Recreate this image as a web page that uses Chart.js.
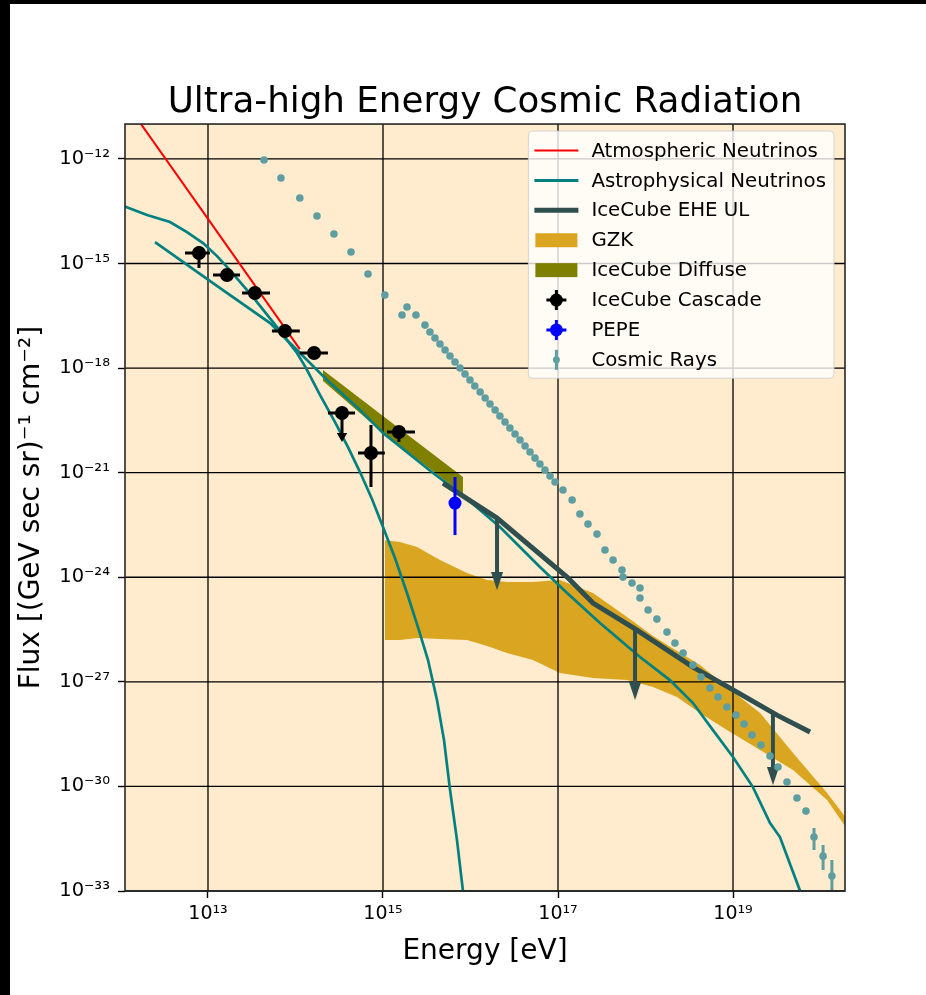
<!DOCTYPE html>
<html>
<head>
<meta charset="utf-8">
<title>Ultra-high Energy Cosmic Radiation</title>
<script src="https://cdn.jsdelivr.net/npm/chart.js@4.4.1/dist/chart.umd.min.js"></script>
<style>
    body { margin: 0; background: #fff; }
    #frame { position: relative; width: 926px; height: 995px; overflow: hidden; }
    #chartFlux { position: absolute; left: 0; top: 0; }
    .edge { position: absolute; background: #000; }
</style>
</head>
<body>
<div id="frame">
    <canvas id="chartFlux" width="926" height="995"></canvas>
    <div class="edge" style="left:0;top:0;width:926px;height:4px"></div>
    <div class="edge" style="left:0;top:0;width:10px;height:995px"></div>
</div>
<script>
// energies in eV, fluxes in (GeV sec sr)^-1 cm^-2

const xMin = 1.126e12;
const xMax = 1.905e20;
const yMin = 1e-33;
const yMax = 1e-11;

const xTickValues = [1e13, 1e15, 1e17, 1e19];
const xTickLabels = ["10¹³", "10¹⁵", "10¹⁷", "10¹⁹"];
const yTickValues = [1e-33, 1e-30, 1e-27, 1e-24, 1e-21, 1e-18, 1e-15, 1e-12];
const yTickLabels = ["10⁻³³", "10⁻³⁰", "10⁻²⁷", "10⁻²⁴", "10⁻²¹", "10⁻¹⁸", "10⁻¹⁵", "10⁻¹²"];

const atmEnergy = [1e12, 1e13, 1.12e14];
const atmFlux = [6.8e-11, 1.9e-14, 3.5e-18];

const astroEnergy = [2.48e12, 1.14e13, 5.12e13, 1.04e14, 2.29e14, 5.46e14, 1e15, 3.73e15, 7.59e15, 2.17e16, 6.22e16, 1.27e17, 3.02e17, 8.65e17, 1.9e18, 3.49e18, 5.9e18, 1e19, 1.69e19, 2.65e19, 3.44e19, 5.84e19, 6.3e19];
const astroFlux = [4.12e-15, 2.75e-16, 1.95e-17, 3.29e-18, 4.53e-19, 6.25e-20, 1.37e-20, 9.75e-22, 2.6e-22, 2.75e-23, 1.96e-24, 3.52e-25, 4.85e-26, 5.13e-27, 1.12e-27, 2.46e-28, 4.13e-29, 6.95e-30, 9.57e-31, 8.87e-32, 3.52e-32, 1e-33, 4e-34];

const astroCutEnergy = [
    1.12e12, 2.01e12, 3.68e12, 5.75e12, 8.77e12, 1.27e13, 1.78e13, 3.27e13, 6.15e13, 1.04e14, 1.32e14, 1.91e14, 2.83e14,
    3.98e14, 5.46e14, 7.48e14, 1e15, 1.37e15, 1.88e15, 2.51e15, 3.27e15, 4.14e15, 4.98e15, 5.84e15, 7.01e15, 8.2e15, 8.65e15
];
const astroCutFlux = [
    4.3e-14, 2.45e-14, 1.55e-14, 7.98e-15, 3.86e-15, 1.63e-15, 6.49e-16, 1.09e-16, 1.5e-17, 2.7e-18, 1.0e-18, 1.68e-19, 2.83e-20,
    5.42e-21, 1.04e-21, 1.75e-22, 2.75e-23, 3.55e-24, 3.52e-25, 3.72e-26, 4.21e-27, 3.0e-28, 2.13e-29, 7.85e-31, 2.89e-32, 1e-33, 1.5e-34
];

const eheEnergy = [4.85e15, 2.01e16, 1.27e17, 2.51e17, 8e17, 3.49e18, 9.25e18, 3.18e19, 7.59e19];
const eheFlux = [5.04e-22, 4.99e-23, 1.01e-24, 1.82e-25, 3.05e-26, 2.65e-27, 6.6e-28, 1.11e-28, 3.62e-29];

const eheArrowEnergy = [2.01e16, 7.59e17, 2.86e19];
const eheArrowTop = [4.99e-23, 3.26e-26, 1.19e-28];
const eheArrowHead = [7.76e-25, 5.43e-28, 1.98e-30];

const gzkEnergy = [1.05e15, 1.56e15, 2.45e15, 4.48e15, 9.12e15, 1.55e16, 2.61e16, 5.18e16, 1.05e17, 2.51e17, 6.15e17, 1.22e18, 2.29e18, 4.2e18, 8.53e18, 2.04e19, 4.85e19, 1.19e20, 2.17e20];
const gzkHigh = [1.16e-23, 1.02e-23, 7.34e-24, 3.11e-24, 1.32e-24, 8.3e-25, 7.28e-25, 7.28e-25, 8.3e-25, 3.52e-25, 7.19e-26, 2.06e-26, 7.62e-27, 3.03e-27, 7.08e-28, 1.27e-28, 9.04e-30, 6.44e-31, 8.87e-32];
const gzkLow = [1.58e-26, 1.58e-26, 1.8e-26, 1.69e-26, 1.58e-26, 1.06e-26, 6.68e-27, 4.21e-27, 1.78e-27, 1.28e-27, 1.12e-27, 7.08e-28, 3.66e-28, 1.27e-28, 4.13e-29, 1.1e-29, 2.94e-30, 4.06e-31, 4.58e-32];

const diffuseEnergy = [2.06e14, 1e15, 8.2e15];
const diffuseHigh = [8.77e-19, 4.21e-20, 7.48e-22];
const diffuseLow = [4.25e-19, 1.37e-20, 2.43e-22];

const cascadeEnergy = [7.89e12, 1.65e13, 3.44e13, 7.59e13, 1.63e14, 3.4e14, 7.29e14, 1.52e15];
const cascadeFlux = [2.0e-15, 4.66e-16, 1.42e-16, 1.15e-17, 2.7e-18, 5.13e-20, 3.65e-21, 1.46e-20];
const cascadeEnergyLow = [5.46e12, 1.14e13, 2.45e13, 5.38e13, 1.12e14, 2.35e14, 5.18e14, 1.11e15];
const cascadeEnergyHigh = [1.05e13, 2.32e13, 5.12e13, 1.12e14, 2.35e14, 4.79e14, 1.05e15, 2.32e15];
const cascadeFluxLow = [7.4e-16, 3.7e-16, 1.13e-16, 9.1e-18, 2.1e-18, null, 3.86e-22, 7.55e-21];
const cascadeFluxHigh = [3.16e-15, 5.9e-16, 1.8e-16, 1.45e-17, 3.4e-18, null, 2.32e-20, 2.03e-20];
const cascadeLimitEnergy = [3.4e14];
const cascadeLimitTop = [5.13e-20];
const cascadeLimitHead = [1.12e-20];

const pepeEnergy = [6.65e15];
const pepeFlux = [1.34e-22];
const pepeFluxLow = [1.62e-23];
const pepeFluxHigh = [7.48e-22];

const crEnergy = [
    4.37e13, 6.82e13, 1.12e14, 1.76e14, 2.75e14, 4.31e14, 6.74e14, 1.05e15, 1.65e15, 1.88e15, 2.38e15, 3.02e15,
    3.44e15, 3.93e15, 4.48e15, 5.12e15, 5.83e15, 6.65e15, 7.59e15, 8.65e15, 9.86e15, 1.12e16, 1.29e16, 1.47e16, 1.67e16,
    1.91e16, 2.17e16, 2.48e16, 2.82e16, 3.23e16, 3.68e16, 4.2e16, 4.79e16, 5.46e16, 6.22e16, 7.1e16, 8.11e16, 9.25e16,
    1.14e17, 1.45e17, 1.78e17, 2.2e17, 2.79e17, 3.44e17, 4.26e17, 5.39e17, 5.53e17, 7.01e17, 8.65e17, 8.65e17,
    1.07e18, 1.35e18, 1.76e18, 2.17e18, 2.69e18, 3.49e18, 4.31e18, 5.46e18, 6.75e18, 8.53e18, 1.08e19, 1.34e19,
    1.65e19, 2.09e19, 2.65e19, 3.27e19, 4.14e19, 5.38e19, 6.82e19, 8.43e19, 1.07e20, 1.35e20
];
const crFlux = [
    9.27e-13, 2.82e-13, 7.54e-14, 2.3e-14, 7.0e-15, 2.13e-15, 4.98e-16, 1.24e-16, 3.32e-17, 5.62e-17, 3.32e-17, 1.71e-17,
    1.08e-17, 7.26e-18, 4.89e-18, 3.29e-18, 2.21e-18, 1.49e-18, 1.0e-18, 6.75e-19, 4.53e-19, 3.05e-19, 2.05e-19, 1.38e-19, 9.29e-20,
    6.25e-20, 4.21e-20, 2.83e-20, 1.91e-20, 1.28e-20, 8.63e-21, 5.79e-21, 3.9e-21, 2.62e-21, 1.77e-21, 1.19e-21, 8.0e-22, 5.37e-22,
    3.17e-22, 1.64e-22, 6.49e-23, 3.35e-23, 1.73e-23, 6.03e-24, 3.11e-24, 1.61e-24, 1.01e-24, 6.81e-25, 4.9e-25, 2.53e-25,
    1.15e-25, 6.31e-26, 2.67e-26, 1.29e-26, 6.68e-27, 3.03e-27, 1.37e-27, 6.62e-28, 3.66e-28, 1.89e-28, 1.11e-28, 6.15e-29,
    2.97e-29, 1.54e-29, 7.43e-30, 3.59e-30, 1.33e-30, 4.63e-31, 1.96e-31, 3.52e-32, 1.0e-32, 2.68e-33
];
const crErrEnergy = [8.43e19, 1.07e20, 1.35e20];
const crErrLow = [1.49e-32, 3.98e-33, 1.06e-33];
const crErrHigh = [6.38e-32, 2.08e-32, 7.71e-33];

const legendEntries = [
    { label: "Atmospheric Neutrinos", kind: "line", color: "red", width: 2 },
    { label: "Astrophysical Neutrinos", kind: "line", color: "teal", width: 3 },
    { label: "IceCube EHE UL", kind: "line", color: "darkslategray", width: 5 },
    { label: "GZK", kind: "patch", color: "goldenrod" },
    { label: "IceCube Diffuse", kind: "patch", color: "olive" },
    { label: "IceCube Cascade", kind: "marker", color: "black", radius: 6.5, hbar: true },
    { label: "PEPE", kind: "marker", color: "blue", radius: 6.5, hbar: true },
    { label: "Cosmic Rays", kind: "marker", color: "cadetblue", radius: 3.5, hbar: false }
];

const fontFamily = "DejaVu Sans";

Chart.defaults.font.family = fontFamily;

function pairs(xs, ys) {

    return xs.map((x, i) => ({ x: x, y: ys[i] }));
}

// horizontal error segments, separated by gaps
function xBars(xs, lo, hi, ys) {

    const pts = [];

    xs.forEach((x, i) => {
        pts.push({ x: lo[i], y: ys[i] }, { x: hi[i], y: ys[i] }, { x: hi[i], y: null });
    });

    return pts;
}

// vertical error segments, separated by gaps
function yBars(xs, lo, hi) {

    const pts = [];

    xs.forEach((x, i) => {
        if (lo[i] === null) {
            return;
        }
        pts.push({ x: x, y: lo[i] }, { x: x, y: hi[i] }, { x: x, y: null });
    });

    return pts;
}

// line from a limit down to its arrow head
function arrows(xs, tops, heads) {

    const pts = [];

    xs.forEach((x, i) => {
        pts.push({ x: x, y: tops[i] }, { x: x, y: heads[i] }, { x: x, y: null });
    });

    return pts;
}

function makeArrowHead(w, h, color) {

    const c = document.createElement("canvas");
    c.width = w;
    c.height = h;
    const g = c.getContext("2d");
    g.fillStyle = color;
    g.beginPath();
    g.moveTo(0, 0);
    g.lineTo(w, 0);
    g.lineTo(w / 2, h);
    g.closePath();
    g.fill();
    return c;
}

const eheHead = makeArrowHead(12, 18, "darkslategray");

const plotBackground = {
    id: "plotBackground",
    beforeDraw(chart) {
        const { ctx, chartArea: a } = chart;
        ctx.save();
        ctx.fillStyle = "blanchedalmond";
        ctx.fillRect(a.left, a.top, a.right - a.left, a.bottom - a.top);
        ctx.restore();
    }
};

// grid sits above the filled bands but under the curves
const gridOverBands = {
    id: "gridOverBands",
    afterDatasetDraw(chart, args) {
        if (!chart.data.datasets[args.index].gridAfter) {
            return;
        }
        const { ctx, chartArea: a, scales } = chart;
        ctx.save();
        ctx.strokeStyle = "#000";
        ctx.lineWidth = 1.3;
        scales.x.ticks.forEach(t => {
            const px = scales.x.getPixelForValue(t.value);
            ctx.beginPath();
            ctx.moveTo(px, a.top);
            ctx.lineTo(px, a.bottom);
            ctx.stroke();
        });
        scales.y.ticks.forEach(t => {
            const py = scales.y.getPixelForValue(t.value);
            ctx.beginPath();
            ctx.moveTo(a.left, py);
            ctx.lineTo(a.right, py);
            ctx.stroke();
        });
        ctx.restore();
    }
};

const axesFrame = {
    id: "axesFrame",
    afterDatasetsDraw(chart) {
        const { ctx, chartArea: a } = chart;
        ctx.save();
        ctx.strokeStyle = "#262626";
        ctx.lineWidth = 1.6;
        ctx.strokeRect(a.left, a.top, a.right - a.left, a.bottom - a.top);
        ctx.restore();
    }
};

const legendBox = {
    id: "legendBox",
    afterDraw(chart) {

        const { ctx, chartArea } = chart;
        const rowH = 29.9;

        ctx.save();
        ctx.font = "19.8px '" + fontFamily + "'";

        const textW = Math.max(...legendEntries.map(e => ctx.measureText(e.label).width));
        const w = 63 + textW + 8;
        const h = rowH * legendEntries.length + 8;
        const left = chartArea.right - 11 - w;
        const top = chartArea.top + 7;

        ctx.beginPath();
        ctx.roundRect(left, top, w, h, 4);
        ctx.fillStyle = "rgba(255,255,255,0.8)";
        ctx.fill();
        ctx.strokeStyle = "rgba(204,204,204,0.8)";
        ctx.lineWidth = 1;
        ctx.stroke();

        legendEntries.forEach((e, i) => {

            const cy = top + 19.5 + i * rowH;
            const cx = left + 28;

            if (e.kind === "line") {
                ctx.strokeStyle = e.color;
                ctx.lineWidth = e.width;
                ctx.beginPath();
                ctx.moveTo(left + 6, cy);
                ctx.lineTo(left + 50, cy);
                ctx.stroke();
            } else if (e.kind === "patch") {
                ctx.fillStyle = e.color;
                ctx.fillRect(left + 7, cy - 7, 42, 14);
            } else {
                ctx.strokeStyle = e.color;
                ctx.lineWidth = 3;
                ctx.beginPath();
                ctx.moveTo(cx, cy - 10);
                ctx.lineTo(cx, cy + 10);
                if (e.hbar) {
                    ctx.moveTo(cx - 10, cy);
                    ctx.lineTo(cx + 10, cy);
                }
                ctx.stroke();
                ctx.fillStyle = e.color;
                ctx.beginPath();
                ctx.arc(cx, cy, e.radius, 0, Math.PI * 2);
                ctx.fill();
            }

            ctx.fillStyle = "#000";
            ctx.textBaseline = "middle";
            ctx.textAlign = "left";
            ctx.fillText(e.label, left + 63, cy + 1);
        });

        ctx.restore();
    }
};

function lineSet(label, xs, ys, color, width, order) {

    return {
        label: label,
        data: pairs(xs, ys),
        borderColor: color,
        borderWidth: width,
        pointRadius: 0,
        fill: false,
        order: order
    };
}

function pointSet(label, xs, ys, color, radius) {

    return {
        label: label,
        data: pairs(xs, ys),
        showLine: false,
        pointRadius: radius,
        pointBackgroundColor: color,
        pointBorderWidth: 0,
        order: 1
    };
}

function barSet(label, data, color, width) {

    return {
        label: label,
        data: data,
        borderColor: color,
        borderWidth: width,
        pointRadius: 0,
        fill: false,
        order: 2
    };
}

function bandSet(label, xs, ys, color, fill, order) {

    return {
        label: label,
        data: pairs(xs, ys),
        borderColor: "rgba(0,0,0,0)",
        borderWidth: 0,
        backgroundColor: color,
        pointRadius: 0,
        fill: fill,
        order: order
    };
}

const datasets = [

    pointSet("Cosmic Rays", crEnergy, crFlux, "cadetblue", 3.8),
    barSet("Cosmic Rays errors", yBars(crErrEnergy, crErrLow, crErrHigh), "cadetblue", 3),

    pointSet("PEPE", pepeEnergy, pepeFlux, "blue", 6.5),
    barSet("PEPE errors", yBars(pepeEnergy, pepeFluxLow, pepeFluxHigh), "blue", 3),

    pointSet("IceCube Cascade", cascadeEnergy, cascadeFlux, "black", 7),
    barSet(
        "IceCube Cascade errors",
        xBars(cascadeEnergy, cascadeEnergyLow, cascadeEnergyHigh, cascadeFlux)
            .concat(yBars(cascadeEnergy, cascadeFluxLow, cascadeFluxHigh)),
        "black",
        3
    ),
    {
        label: "IceCube Cascade limit",
        data: arrows(cascadeLimitEnergy, cascadeLimitTop, cascadeLimitHead),
        borderColor: "black",
        borderWidth: 3,
        pointStyle: "triangle",
        rotation: 180,
        pointRadius: c => (c.dataIndex % 3 === 1 ? 6 : 0),
        pointBackgroundColor: "black",
        pointBorderWidth: 0,
        order: 2
    },

    lineSet("IceCube EHE UL", eheEnergy, eheFlux, "darkslategray", 5, 3),
    {
        label: "IceCube EHE UL arrows",
        data: arrows(eheArrowEnergy, eheArrowTop, eheArrowHead),
        borderColor: "darkslategray",
        borderWidth: 4,
        pointStyle: eheHead,
        pointRadius: c => (c.dataIndex % 3 === 1 ? 9 : 0),
        order: 3
    },

    lineSet("Atmospheric Neutrinos", atmEnergy, atmFlux, "red", 2, 4),
    lineSet("Astrophysical Neutrinos", astroEnergy, astroFlux, "teal", 2.7, 4),
    lineSet("Astrophysical Neutrinos cutoff", astroCutEnergy, astroCutFlux, "teal", 2.7, 4),

    Object.assign(bandSet("IceCube Diffuse", diffuseEnergy, diffuseHigh, "olive", "+1", 5), { gridAfter: true }),
    bandSet("IceCube Diffuse low", diffuseEnergy, diffuseLow, "olive", false, 5),

    bandSet("GZK", gzkEnergy, gzkHigh, "goldenrod", "+1", 6),
    bandSet("GZK low", gzkEnergy, gzkLow, "goldenrod", false, 6)
];

new Chart(

    document.getElementById("chartFlux"),

    {
        type: "line",

        data: {
            datasets: datasets
        },

        options: {

            responsive: false,
            devicePixelRatio: 1,
            animation: false,
            events: [],

            layout: {
                padding: { top: 0, right: 81, bottom: 0, left: 0 }
            },

            datasets: {
                line: { clip: 0, spanGaps: false }
            },

            plugins: {

                legend: { display: false },
                tooltip: { enabled: false },

                title: {
                    display: true,
                    text: "Ultra-high Energy Cosmic Radiation",
                    fullSize: false,
                    color: "#000",
                    font: { size: 35.7, weight: "normal" },
                    padding: { top: 81, bottom: 0.2 }
                }
            },

            scales: {

                x: {
                    type: "logarithmic",
                    min: xMin,
                    max: xMax,
                    bounds: "data",
                    afterBuildTicks: s => {
                        s.ticks = xTickValues.map(v => ({ value: v }));
                    },
                    afterFit: s => {
                        s.height = 104;
                    },
                    grid: {
                        drawOnChartArea: false,
                        drawTicks: true,
                        tickLength: 7,
                        tickColor: "#000",
                        tickWidth: 1.4
                    },
                    border: { display: false },
                    ticks: {
                        color: "#000",
                        font: { size: 19 },
                        padding: 5,
                        maxRotation: 0,
                        autoSkip: false,
                        callback: (v, i) => xTickLabels[i]
                    },
                    title: {
                        display: true,
                        text: "Energy [eV]",
                        color: "#000",
                        font: { size: 28 },
                        padding: { top: 0, bottom: 26 }
                    }
                },

                y: {
                    type: "logarithmic",
                    min: yMin,
                    max: yMax,
                    bounds: "data",
                    afterBuildTicks: s => {
                        s.ticks = yTickValues.map(v => ({ value: v }));
                    },
                    afterFit: s => {
                        s.width = 125;
                    },
                    grid: {
                        drawOnChartArea: false,
                        drawTicks: true,
                        tickLength: 7,
                        tickColor: "#000",
                        tickWidth: 1.4
                    },
                    border: { display: false },
                    ticks: {
                        color: "#000",
                        font: { size: 19.5 },
                        padding: 8,
                        autoSkip: false,
                        callback: (v, i) => yTickLabels[i]
                    },
                    title: {
                        display: true,
                        text: "Flux [(GeV sec sr)⁻¹ cm⁻²]",
                        color: "#000",
                        font: { size: 28 },
                        padding: { top: 15, bottom: 0 }
                    }
                }
            }
        },

        plugins: [plotBackground, gridOverBands, axesFrame, legendBox]
    }
);
</script>
</body>
</html>
